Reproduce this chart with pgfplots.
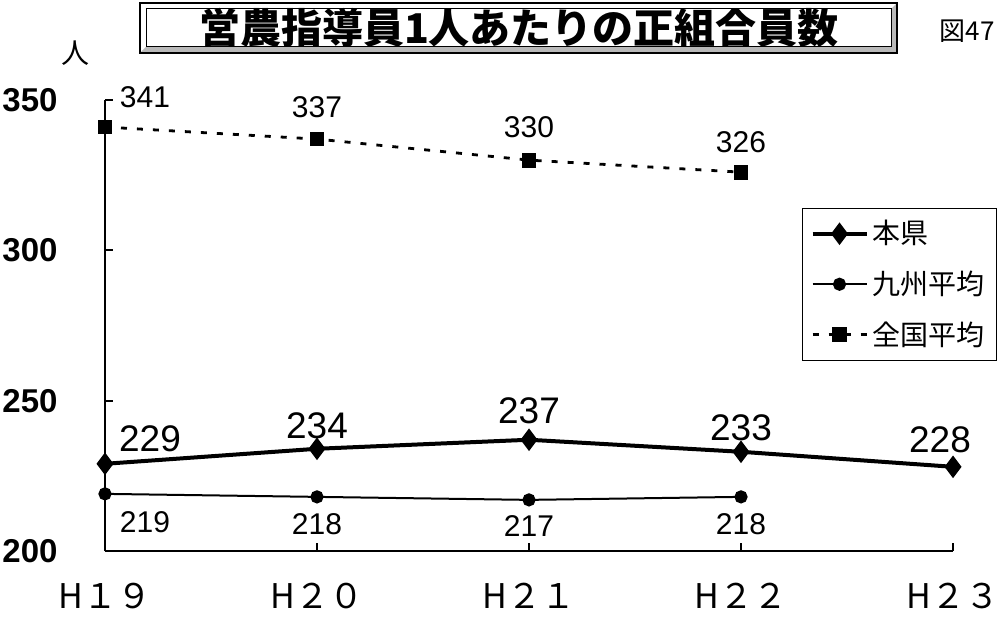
\documentclass[border=0pt]{standalone}
\usepackage{pgfplots}
\usepackage{pgfplotstable}
\pgfplotsset{compat=1.18}
\usepackage{fontspec}
\setmainfont{Liberation Sans}
\newfontfamily\cjk{Noto Sans CJK JP}

% x y  label shift (pt)
\pgfplotstableread{
x y dx dy
0 229 22.5 12.5
1 234 0 11.5
2 237 0 14.5
3 233 0 12
4 228 -6.5 13.5
}\honken
\pgfplotstableread{
x y dx dy
0 219 20 -14
1 218 0 -13.5
2 217 0 -13
3 218 0 -13.5
}\kyushu
\pgfplotstableread{
x y dx dy
0 341 20 15
1 337 0 16
2 330 0 16.5
3 326 0 15
}\zenkoku

\begin{document}
\begin{tikzpicture}
\path[use as bounding box] (-52.5pt,-34.5pt) rectangle (449.5pt,275.5pt);

% title box
\fill[gray!55] (17.5pt,249pt) -- (396pt,249pt) -- (396pt,274pt) -- (393pt,271pt) -- (393pt,252pt) -- (20.5pt,252pt) -- cycle;
\draw[line width=0.8pt] (17.5pt,249pt) rectangle (396pt,274pt);
\draw[line width=0.5pt] (20.5pt,252pt) rectangle (393pt,271pt);
\node[font=\cjk\bfseries\fontsize{20.5}{22}\selectfont] at (207pt,261.5pt) {営農指導員1人あたりの正組合員数};
\node[font=\cjk\fontsize{14}{16}\selectfont] at (-15pt,249pt) {人};
\node[font=\cjk\fontsize{13}{15}\selectfont] at (431pt,260pt) {図47};

\begin{axis}[
    at={(0pt,0pt)}, anchor=south west,
    scale only axis,
    width=424pt, height=225.5pt,
    xmin=0, xmax=4, ymin=200, ymax=350,
    clip=false,
    /pgf/number format/assume math mode=true,
    axis x line=bottom, axis y line=left,
    axis line style={-, line width=1.3pt},
    tick align=inside,
    major tick length=4pt,
    tick style={line width=1pt, black},
    xtick={0,...,4},
    xticklabels={H１９, H２０, H２１, H２２, H２３},
    xticklabel style={font=\cjk\fontsize{17}{19}\selectfont, anchor=center, yshift=-22.5pt},
    ytick={200,250,300,350},
    yticklabel style={font=\bfseries\fontsize{16.5}{18}\selectfont, anchor=center, xshift=-37.5pt},
    legend style={at={(1,1)}, anchor=north east, xshift=22pt, yshift=-54pt,
        draw=black, line width=0.5pt, inner sep=4pt,
        font=\cjk\fontsize{14}{16}\selectfont, row sep=8pt,
        nodes={inner sep=2pt}},
    legend cell align=left,
    legend image code/.code={
        \draw[mark repeat=2,mark phase=2,#1] plot coordinates {(0pt,0pt) (13.5pt,0pt) (27pt,0pt)};},
]
\addplot[black, line width=2pt, mark=diamond*, mark size=4pt,
    mark options={solid},
    visualization depends on={\thisrow{dx} \as \dx},
    visualization depends on={\thisrow{dy} \as \dy},
    nodes near coords,
    nodes near coords style={font=\fontsize{18.5}{20}\selectfont, anchor=center,
        xshift=\dx pt, yshift=\dy pt}]
    table[x=x, y=y] {\honken};
\addlegendentry{本県}
\addplot[black, line width=1pt, mark=*, mark size=2.8pt,
    visualization depends on={\thisrow{dx} \as \dx},
    visualization depends on={\thisrow{dy} \as \dy},
    nodes near coords,
    nodes near coords style={font=\fontsize{15}{17}\selectfont, anchor=center,
        xshift=\dx pt, yshift=\dy pt}]
    table[x=x, y=y] {\kyushu};
\addlegendentry{九州平均}
\addplot[black, line width=1.4pt, dash pattern=on 3pt off 5pt,
    mark=square*, mark size=3pt, mark options={solid},
    visualization depends on={\thisrow{dx} \as \dx},
    visualization depends on={\thisrow{dy} \as \dy},
    nodes near coords,
    nodes near coords style={font=\fontsize{15}{17}\selectfont, anchor=center,
        xshift=\dx pt, yshift=\dy pt}]
    table[x=x, y=y] {\zenkoku};
\addlegendentry{全国平均}
\end{axis}
\end{tikzpicture}
\end{document}
